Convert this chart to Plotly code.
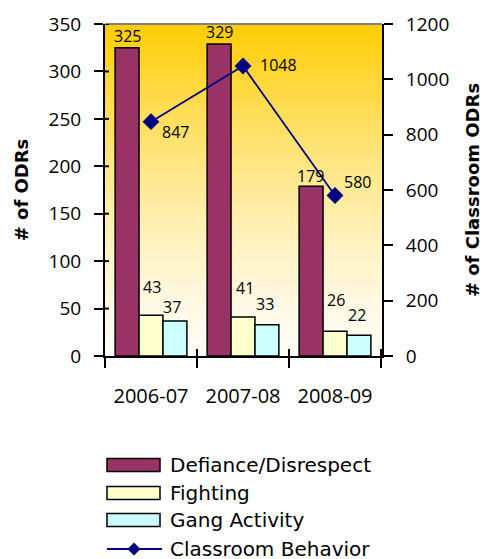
import plotly.graph_objects as go

# School years and office discipline referral counts
years = ["2006-07", "2007-08", "2008-09"]
defiance = [325, 329, 179]
fighting = [43, 41, 26]
gang = [37, 33, 22]
classroom = [847, 1048, 580]

series_names = ["Defiance/Disrespect", "Fighting", "Gang Activity", "Classroom Behavior"]
bar_colors = ["#993366", "#FFFFCC", "#CCFFFF"]
line_color = "#000080"

W, H = 488, 559
L, R, T, B = 105, 382, 24, 356  # plot area in pixels
TICK_FONT = "Open Sans"
LEGEND_FONT = "DejaVu Sans"
TITLE_FONT = "DejaVu Sans"


def px_x(px):
    return (px - L) / (R - L)


def px_y(py):
    return (B - py) / (B - T)


fig = go.Figure()

for name, vals, col in zip(series_names[:3], [defiance, fighting, gang], bar_colors):
    fig.add_trace(go.Bar(
        x=years, y=vals, name=name, marker=dict(color=col, line=dict(color="black", width=1.5)),
        showlegend=False, yaxis="y",
    ))

fig.add_trace(go.Scatter(
    x=years, y=classroom, name=series_names[3], mode="lines+markers", yaxis="y2",
    line=dict(color=line_color, width=1.8),
    marker=dict(symbol="diamond", size=13, color=line_color),
    showlegend=False,
))

# Gradient background of the plotting area: gold at top fading to white
shapes = []
n_bands = 120
top_rgb = (255, 204, 0)
bot_rgb = (255, 252, 245)
for i in range(n_bands):
    y0 = i / n_bands
    y1 = (i + 1) / n_bands
    t = ((y0 + y1) / 2) ** 1.4
    c = [round(b + (tp - b) * t) for tp, b in zip(top_rgb, bot_rgb)]
    shapes.append(dict(type="rect", xref="paper", yref="paper", x0=0, x1=1, y0=y0, y1=y1 + 0.002,
                       fillcolor=f"rgb({c[0]},{c[1]},{c[2]})", line=dict(width=0), layer="below"))
shapes.append(dict(type="line", xref="paper", yref="paper", x0=0, x1=1, y0=1, y1=1,
                   line=dict(color="#808080", width=2)))

# Short inner halves of the left-axis ticks (they cross the axis line)
for v in range(50, 351, 50):
    shapes.append(dict(type="line", xref="paper", yref="y", x0=0, x1=px_x(L + 4), y0=v, y1=v,
                       line=dict(color="black", width=2)))
# Inner halves of the category-boundary ticks
for k in range(1, len(years) + 1):
    shapes.append(dict(type="line", xref="x", yref="paper", x0=k - 0.5, x1=k - 0.5,
                       y0=0, y1=px_y(B - 7), line=dict(color="black", width=2)))

# Value labels
annotations = []
offsets = [-24, 0, 24]
lab_shift = [
    [(0, 12), (0, 12), (-1, 10)],     # defiance
    [(1, 28), (2, 29), (1, 31)],      # fighting
    [(-3, 14), (-2, 21), (-2, 20)],   # gang
]
for s, vals in enumerate([defiance, fighting, gang]):
    for i, v in enumerate(vals):
        dx, dy = lab_shift[s][i]
        annotations.append(dict(x=years[i], y=v, xref="x", yref="y", text=str(v), showarrow=False,
                                xshift=offsets[s] + dx, yshift=dy, yanchor="middle",
                                font=dict(family=TICK_FONT, size=16, color="black")))
line_shift = [(24, -10), (35, 1), (22, 14)]
for i, v in enumerate(classroom):
    dx, dy = line_shift[i]
    annotations.append(dict(x=years[i], y=v, xref="x", yref="y2", text=str(v), showarrow=False,
                            xshift=dx, yshift=dy, yanchor="middle",
                            font=dict(family=TICK_FONT, size=16, color="black")))

# Title
annotations.append(dict(x=px_x(261), y=px_y(6), xref="paper", yref="paper", text="<b>2007-2009</b>",
                        showarrow=False, yanchor="bottom", xanchor="center",
                        font=dict(family=TITLE_FONT, size=19, color="black")))

# Legend drawn below the chart
leg_rows = [465, 493, 520]
for name, col, cy in zip(series_names[:3], bar_colors, leg_rows):
    shapes.append(dict(type="rect", xref="paper", yref="paper", x0=px_x(107), x1=px_x(160),
                       y0=px_y(cy + 6.5), y1=px_y(cy - 6.5), fillcolor=col,
                       line=dict(color="black", width=1.5)))
    annotations.append(dict(x=px_x(168), y=px_y(cy), xref="paper", yref="paper", text=name,
                            showarrow=False, xanchor="left", yanchor="middle",
                            font=dict(family=LEGEND_FONT, size=20, color="black")))
ly = 549
shapes.append(dict(type="line", xref="paper", yref="paper", x0=px_x(107), x1=px_x(162),
                   y0=px_y(ly), y1=px_y(ly), line=dict(color=line_color, width=1.8)))
d = 6.5
shapes.append(dict(type="path", xref="paper", yref="paper",
                   path=(f"M {px_x(134 - d)},{px_y(ly)} L {px_x(134)},{px_y(ly - d)} "
                         f"L {px_x(134 + d)},{px_y(ly)} L {px_x(134)},{px_y(ly + d)} Z"),
                   fillcolor=line_color, line=dict(color=line_color, width=0)))
annotations.append(dict(x=px_x(168), y=px_y(ly), xref="paper", yref="paper", text=series_names[3],
                        showarrow=False, xanchor="left", yanchor="middle",
                        font=dict(family=LEGEND_FONT, size=20, color="black")))

fig.update_layout(
    width=W, height=H,
    margin=dict(l=L, r=W - R, t=T, b=H - B, pad=0, autoexpand=False),
    paper_bgcolor="white", plot_bgcolor="rgba(0,0,0,0)",
    barmode="group", bargap=0.22, bargroupgap=0,
    shapes=shapes, annotations=annotations,
    xaxis=dict(type="category", categoryorder="array", categoryarray=years, automargin=False,
               tickson="boundaries", ticks="outside", ticklen=10, tickwidth=2, tickcolor="black",
               showline=True, linecolor="black", linewidth=2, showgrid=False,
               tickfont=dict(family=TICK_FONT, size=20, color="black"), ticklabelstandoff=21),
    yaxis=dict(range=[0, 350], dtick=50, ticks="outside", ticklen=9, tickwidth=2, tickcolor="black",
               showline=True, linecolor="black", linewidth=2, showgrid=False, zeroline=False,
               automargin=False,
               tickfont=dict(family=TICK_FONT, size=19, color="black"), ticklabelstandoff=9,
               title=dict(text="<b># of ODRs</b>", standoff=15,
                          font=dict(family=TITLE_FONT, size=18, color="black"))),
    yaxis2=dict(range=[0, 1200], dtick=200, overlaying="y", side="right",
                ticks="outside", ticklen=9, tickwidth=2, tickcolor="black",
                showline=True, linecolor="black", linewidth=2, showgrid=False, zeroline=False,
                automargin=False,
                tickfont=dict(family=TICK_FONT, size=19, color="black"), ticklabelstandoff=9,
                title=dict(text="<b># of Classroom ODRs</b>", standoff=18,
                           font=dict(family=TITLE_FONT, size=18, color="black"))),
)

fig.write_html("out.html")
